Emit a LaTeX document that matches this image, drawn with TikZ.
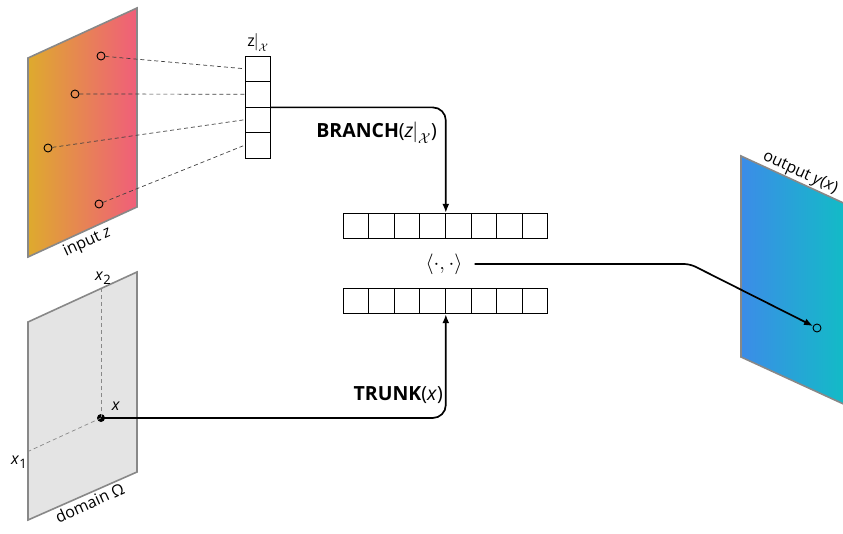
\documentclass[tikz,border=0pt]{standalone}
\usepackage{fontspec}
\setmainfont{Open Sans}
\usetikzlibrary{arrows.meta,calc}

\definecolor{inleft}{RGB}{222,170,46}
\definecolor{inright}{RGB}{240,94,122}
\definecolor{outleft}{RGB}{60,140,232}
\definecolor{outright}{RGB}{16,190,196}
\definecolor{domfill}{RGB}{228,228,228}
\definecolor{rim}{RGB}{136,136,136}

\newcommand{\lowidx}[1]{\raisebox{-4pt}{\fontsize{13}{13}\selectfont #1}}

\tikzset{
  panel/.style={draw=rim, line width=1.6pt, line join=miter},
  cell/.style={draw=black, line width=0.8pt, minimum width=25.6pt, minimum height=25.6pt, inner sep=0pt},
  zcell/.style={cell, minimum width=25pt, minimum height=25.5pt},
  sample/.style={circle, draw=black, line width=0.9pt, minimum size=8pt, inner sep=0pt},
  probe/.style={dashed, dash pattern=on 4pt off 3pt, line width=0.7pt, black!75},
  axisline/.style={dashed, dash pattern=on 4pt off 3pt, line width=0.7pt, rim},
  flow/.style={line width=1.7pt, black, rounded corners=13pt, -{Latex[length=9pt,width=7pt]}},
  lbl/.style={font=\fontsize{16}{19}\selectfont, inner sep=0pt},
  oplbl/.style={font=\fontsize{19.5}{22}\selectfont, inner sep=0pt},
}

\begin{document}
\begin{tikzpicture}[x=1pt,y=-1pt]
\useasboundingbox (0,0) rectangle (843,534);

% input field z
\fill[left color=inleft, right color=inright] (28,58) -- (137,8) -- (137,207) -- (28,257) -- cycle;
\draw[panel] (28,58) -- (137,8) -- (137,207) -- (28,257) -- cycle;
\node[lbl, rotate=24.6, anchor=north] (inlbl) at (84,235) {input \textit{z}};

% sensor locations
\node[sample] (s1) at (101,56) {};
\node[sample] (s2) at (75,94) {};
\node[sample] (s3) at (48,148) {};
\node[sample] (s4) at (99,204) {};

% restricted input vector
\foreach \i in {1,...,4}
  \node[zcell] (z\i) at (257.5,{56+12.75+(\i-1)*25.5}) {};
\node[lbl, anchor=south] (zlbl) at (258,52) {z\kern-1pt$\big|_{\mathcal{X}}$};

\foreach \i in {1,...,4}
  \draw[probe] (s\i) -- (z\i.west);

% domain Omega
\draw[panel, fill=domfill] (28,322) -- (137,272) -- (137,472) -- (28,520) -- cycle;
\node[lbl, rotate=24.6, anchor=north] (domlbl) at (87,497) {domain Ω};
\node[circle, fill=black, minimum size=8pt, inner sep=0pt] (xpt) at (101,418) {};
\coordinate (x2top) at (101,288.5);
\coordinate (x1left) at (28,451.5);
\draw[axisline] (xpt.center) -- (x2top);
\draw[axisline] (xpt.center) -- (x1left);
\node[lbl] (x2lbl) at (103,278) {\textit{x}\lowidx{2}};
\node[lbl] (x1lbl) at (19,462) {\textit{x}\lowidx{1}};
\node[lbl] (xlbl) at (116,406) {\textit{x}};

% branch and trunk feature vectors
\foreach \i in {1,...,8} {
  \node[cell] (b\i) at ({343+12.8+(\i-1)*25.6},226) {};
  \node[cell] (t\i) at ({343+12.8+(\i-1)*25.6},301) {};
}
\node[inner sep=0pt, font=\fontsize{21}{24}\selectfont] (ip) at (444,264) {$\langle\cdot,\cdot\rangle$};

% branch network
\draw[flow] (z2.south east) -- (b4.north east |- z2.south east) -- (b4.north east);
\node[oplbl, anchor=east] (brlbl) at (437,133) {\textbf{BRANCH}(\textit{z}\kern-1pt$\Big|_{\mathcal{X}}$)};

% trunk network
\draw[flow] (xpt.center) -- (t4.south east |- xpt.center) -- (t4.south east);
\node[oplbl, anchor=east] (trlbl) at (443,395) {\textbf{TRUNK}(\textit{x})};

% output field y
\fill[left color=outleft, right color=outright] (741,156) -- (850,206) -- (850,407) -- (741,357) -- cycle;
\draw[panel] (741,156) -- (850,206) -- (850,407) -- (741,357) -- cycle;
\node[lbl, rotate=-24.6, anchor=south] (outlbl) at (797,180) {output \textit{y}(\textit{x})};
\node[sample] (ypt) at (817,328) {};

% evaluation of the inner product at x
\coordinate (bend) at (690,264);
\draw[line width=1.7pt, black, rounded corners=6pt, -{Latex[length=9pt,width=7pt]}]
  ($(ip.east)+(12,0)$) -- (bend) -- (ypt);
\end{tikzpicture}
\end{document}
